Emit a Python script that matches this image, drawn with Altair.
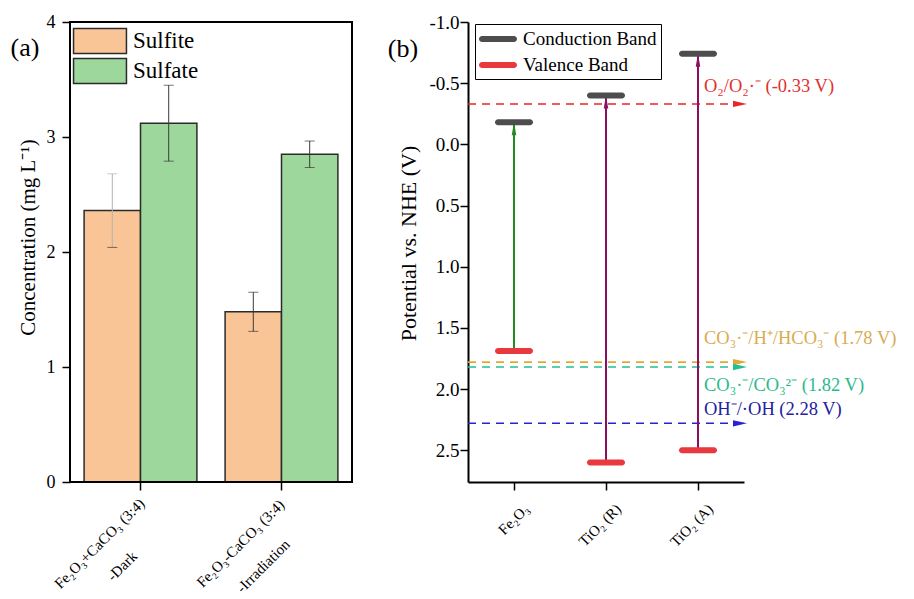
import altair as alt
import pandas as pd

FONT = "Liberation Serif"
LEG_FONT = "Times New Roman, Liberation Serif, serif"

# ---------------- Panel (a) data ----------------
conditions = ["Fe₂O₃+CaCO₃ (3:4)|-Dark", "Fe₂O₃-CaCO₃ (3:4)|-Irradiation"]
series = ["Sulfite", "Sulfate"]
sulfite = [2.36, 1.48]
sulfate = [3.12, 2.85]
sulfite_err = [0.32, 0.17]
sulfate_err = [0.33, 0.115]

rows = []
for i, c in enumerate(conditions):
    rows.append({"cond": c, "ion": "Sulfite", "val": sulfite[i],
                 "lo": sulfite[i] - sulfite_err[i], "hi": sulfite[i] + sulfite_err[i]})
    rows.append({"cond": c, "ion": "Sulfate", "val": sulfate[i],
                 "lo": sulfate[i] - sulfate_err[i], "hi": sulfate[i] + sulfate_err[i]})
df_a = pd.DataFrame(rows)

# ---------------- Panel (b) data ----------------
materials = ["Fe₂O₃", "TiO₂ (R)", "TiO₂ (A)"]
cb = [-0.18, -0.40, -0.74]
vb = [1.69, 2.60, 2.50]
band_names = ["Conduction Band", "Valence Band"]

couples = ["O₂/O₂·⁻ (-0.33 V)", "CO₃·⁻/H⁺/HCO₃⁻ (1.78 V)",
           "CO₃·⁻/CO₃²⁻ (1.82 V)", "OH⁻/·OH (2.28 V)"]
potentials = [-0.33, 1.78, 1.82, 2.28]

df_bands = pd.DataFrame(
    [{"mat": m, "band": band_names[0], "E": cb[i]} for i, m in enumerate(materials)]
    + [{"mat": m, "band": band_names[1], "E": vb[i]} for i, m in enumerate(materials)]
)
df_gap = pd.DataFrame({"mat": materials, "cb": cb, "vb": vb})
df_cpl = pd.DataFrame({"couple": couples, "E": potentials})

# ---------------- Panel (a) chart ----------------
W_A, H = 282, 460
xa = alt.X("cond:N", sort=conditions, title=None,
           scale=alt.Scale(paddingInner=0.2, paddingOuter=0.1),
           axis=alt.Axis(labelAngle=-45, labelAlign="center", labelBaseline="top",
                         labelExpr="split(datum.label, '|')", labelLineHeight=32,
                         labelOffset=-46, labelPadding=48, labelFontSize=15,
                         tickSize=8, domain=False))
xo = alt.XOffset("ion:N", sort=series, scale=alt.Scale(paddingInner=0, paddingOuter=0))
ya = alt.Y("val:Q", title="Concentration (mg L⁻¹)",
           scale=alt.Scale(domain=[0, 4], nice=False),
           axis=alt.Axis(values=[0, 1, 2, 3, 4], format="d", tickSize=8, labelFontSize=18,
                         titleFontSize=21, titlePadding=8, labelPadding=7, domain=False,
                         titleY=215))

base_a = alt.Chart(df_a)
bars = base_a.mark_bar(stroke="#2b2b2b", strokeWidth=1.5).encode(
    x=xa, xOffset=xo, y=ya,
    color=alt.Color("ion:N", sort=series,
                    scale=alt.Scale(domain=series, range=["#f9c597", "#9dd79c"]),
                    legend=alt.Legend(title=None, orient="none", legendX=16, legendY=5,
                                      symbolType="M-2,-0.94H2V0.94H-2Z", symbolSize=700,
                                      symbolStrokeColor="#2b2b2b", symbolStrokeWidth=1.5,
                                      labelFontSize=23, labelFont=LEG_FONT, rowPadding=-3,
                                      labelOffset=19, symbolOpacity=1)),
)
err_color = alt.condition(
    (alt.datum.ion == series[0]) & (alt.datum.cond == conditions[0]),
    alt.value("#b3b3b3"), alt.value("#3a3a3a"))
err = base_a.mark_rule(strokeWidth=1).encode(
    x=alt.X("cond:N", sort=conditions), xOffset=xo, y="lo:Q", y2="hi:Q", color=err_color)
cap_hi = base_a.mark_tick(size=10, thickness=1).encode(
    x=alt.X("cond:N", sort=conditions), xOffset=xo, y="hi:Q", color=err_color)
cap_lo = base_a.mark_tick(color="#3a3a3a", size=10, thickness=1).encode(
    x=alt.X("cond:N", sort=conditions), xOffset=xo, y="lo:Q")
tag_a = alt.Chart(pd.DataFrame({"t": ["(a)"]})).mark_text(
    fontSize=26, font=FONT, align="center", baseline="middle").encode(
    text="t:N", x=alt.value(-45), y=alt.value(26))

# frame for panel (a)
frame_a = alt.Chart(pd.DataFrame({"t": [0]})).mark_rect(
    fill="transparent", stroke="black", strokeWidth=2).encode(
    x=alt.value(0), x2=alt.value(W_A), y=alt.value(0), y2=alt.value(H))

panel_a = alt.layer(bars, err, cap_hi, cap_lo, frame_a, tag_a).properties(width=W_A, height=H)

# ---------------- Panel (b) chart ----------------
W_B = 276
xb = alt.X("mat:N", sort=materials, title=None,
           scale=alt.Scale(type="point", padding=0.5, domain=materials),
           axis=alt.Axis(labelAngle=-45, labelAlign="right", labelBaseline="middle",
                         labelOffset=12, labelPadding=16, labelFontSize=15, tickSize=8,
                         domainWidth=2, domainColor="black"))
yscale = alt.Scale(domain=[-1.0, 2.76], reverse=True, nice=False, zero=False)
yb = alt.Y("E:Q", title="Potential vs. NHE (V)", scale=yscale,
           axis=alt.Axis(values=[-1.0, -0.5, 0.0, 0.5, 1.0, 1.5, 2.0, 2.5],
                         labelExpr="replace(format(datum.value, '.1f'), '\u2212', '-')",
                         tickSize=8, labelFontSize=19, titleFontSize=22, titlePadding=8,
                         labelPadding=1, domainWidth=2, domainColor="black", titleY=221))

cpl_colors = ["#e8262a", "#e0a935", "#22c08e", "#2424d6"]
txt_colors = ["#e03030", "#d8ac50", "#2cb98a", "#22229e"]

dashes = alt.Chart(df_cpl).mark_rule(strokeDash=[8, 6], strokeWidth=1.6).encode(
    y=alt.Y("E:Q", scale=yscale),
    x=alt.value(0), x2=alt.value(265),
    color=alt.Color("couple:N", scale=alt.Scale(domain=couples, range=cpl_colors), legend=None))
dash_heads = alt.Chart(df_cpl).mark_point(
    shape="M1,0L-1,-0.45L-1,0.45Z", size=196, filled=True, opacity=1).encode(
    y=alt.Y("E:Q", scale=yscale), x=alt.value(272),
    color=alt.Color("couple:N", scale=alt.Scale(domain=couples, range=cpl_colors), legend=None))

label_dy = [-18, -24, 18, -14]
labels = []
for i, c in enumerate(couples):
    labels.append(
        alt.Chart(df_cpl).transform_filter(alt.datum.couple == c).mark_text(
            align="left", baseline="middle", fontSize=18.5, font=FONT,
            dy=label_dy[i], color=txt_colors[i]).encode(
            y=alt.Y("E:Q", scale=yscale), x=alt.value(236), text="couple:N"))

arrow_color = alt.condition(alt.datum.mat == materials[0], alt.value("#1f8c1f"), alt.value("#8c0f62"))
shafts = alt.Chart(df_gap).mark_rule(strokeWidth=2).encode(
    x=alt.X("mat:N", sort=materials), y=alt.Y("vb:Q", scale=yscale), y2="cb:Q", color=arrow_color)
heads = alt.Chart(df_gap).mark_point(
    shape="M0,-1L0.35,1L-0.35,1Z", size=169, filled=True, opacity=1, yOffset=6.5).encode(
    x=alt.X("mat:N", sort=materials), y=alt.Y("cb:Q", scale=yscale), color=arrow_color)

levels = alt.Chart(df_bands).mark_tick(size=38, thickness=6, cornerRadius=3, opacity=1).encode(
    x=xb, y=yb,
    color=alt.Color("band:N", sort=band_names,
                    scale=alt.Scale(domain=band_names, range=["#4d4d4d", "#e8393f"]),
                    legend=alt.Legend(title=None, orient="none", legendX=7, legendY=2,
                                      symbolType="M-1.6,-0.3H1.6A0.3,0.3 0 0 1 1.6,0.3H-1.6A0.3,0.3 0 0 1 -1.6,-0.3Z",
                                      symbolSize=400, symbolOffset=8, labelFontSize=19,
                                      labelFont=LEG_FONT, strokeColor="black", padding=4,
                                      rowPadding=5, labelOffset=14, symbolOpacity=1,
                                      fillColor="white")),
)
tag_b = alt.Chart(pd.DataFrame({"t": ["(b)"]})).mark_text(
    fontSize=26, font=FONT, align="center", baseline="middle").encode(
    text="t:N", x=alt.value(-65), y=alt.value(27))

panel_b = alt.layer(dashes, dash_heads, shafts, heads, levels, *labels, tag_b).resolve_scale(
    color="independent").properties(width=W_B, height=H)

chart = alt.hconcat(panel_a, panel_b, spacing=34).resolve_scale(
    color="independent", x="independent", y="independent"
).properties(
    padding={"left": 10, "top": 13, "right": 5, "bottom": 0}
).configure(font=FONT).configure_view(stroke=None).configure_axis(
    grid=False, labelColor="black", titleColor="black", tickColor="black",
    domainColor="black", tickWidth=1.5, titleFontWeight="normal", labelFont=FONT, titleFont=FONT
).configure_legend(labelColor="black")

chart.save("out.html", embed_options={"renderer": "svg", "actions": False})
